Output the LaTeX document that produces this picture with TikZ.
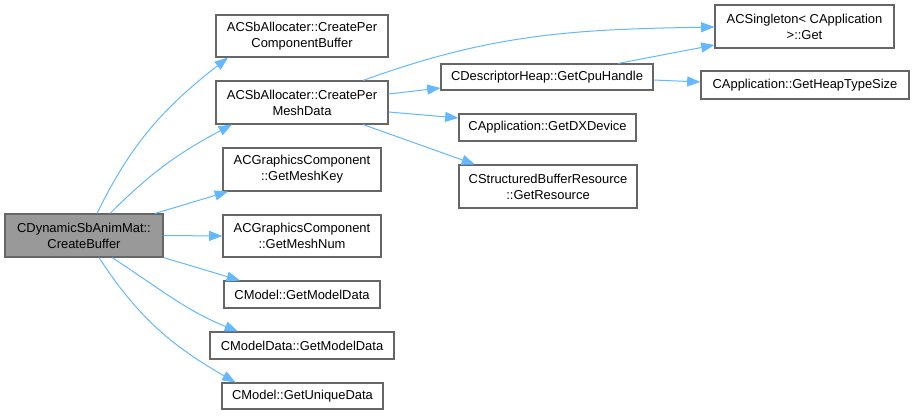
\documentclass[tikz,border=0pt]{standalone}
\usepackage{fontspec}
\setmainfont{Liberation Sans}
\usetikzlibrary{arrows.meta, calc}

\definecolor{edgeblue}{HTML}{63B8FF}
\definecolor{boxline}{HTML}{666666}
\definecolor{rootfill}{HTML}{999999}

\begin{document}
\begin{tikzpicture}[
    x=0.75pt, y=0.75pt,
    box/.style={rectangle, draw=boxline, line width=0.8pt, fill=white, inner sep=0pt, align=center, font=\fontsize{9.7}{12}\selectfont},
    rootbox/.style={box, fill=rootfill},
    arrow/.style={-{Triangle[length=10pt, width=7.5pt]}, draw=edgeblue, line width=0.75pt}
  ]
    \useasboundingbox (0,0) rectangle (914,415);

    \node[rootbox, minimum width=158*0.75pt, minimum height=43*0.75pt] (cb) at (84,179.5) {CDynamicSbAnimMat::\\CreateBuffer};

    \node[box, minimum width=172*0.75pt, minimum height=42*0.75pt] (perComp) at (302,379) {ACSbAllocater::CreatePer\\ComponentBuffer};
    \node[box, minimum width=172*0.75pt, minimum height=43*0.75pt] (perMesh) at (302,312.5) {ACSbAllocater::CreatePer\\MeshData};
    \node[box, minimum width=158*0.75pt, minimum height=43*0.75pt] (meshKey) at (302,245.5) {ACGraphicsComponent\\::GetMeshKey};
    \node[box, minimum width=158*0.75pt, minimum height=42*0.75pt] (meshNum) at (302,179) {ACGraphicsComponent\\::GetMeshNum};
    \node[box, minimum width=156*0.75pt, minimum height=27*0.75pt] (modelData) at (302,120.5) {CModel::GetModelData};
    \node[box, minimum width=184*0.75pt, minimum height=27*0.75pt] (mdData) at (302,69.5) {CModelData::GetModelData};
    \node[box, minimum width=161*0.75pt, minimum height=26*0.75pt] (unique) at (302.5,19) {CModel::GetUniqueData};

    \node[box, minimum width=212*0.75pt, minimum height=26*0.75pt] (cpuHandle) at (547,338) {CDescriptorHeap::GetCpuHandle};
    \node[box, minimum width=177*0.75pt, minimum height=27*0.75pt] (dxDevice) at (547.5,287.5) {CApplication::GetDXDevice};
    \node[box, minimum width=178*0.75pt, minimum height=43*0.75pt] (resource) at (548,228.5) {CStructuredBufferResource\\::GetResource};

    \node[box, minimum width=179*0.75pt, minimum height=43*0.75pt] (singleton) at (804.5,388.5) {ACSingleton< CApplication\\>::Get};
    \node[box, minimum width=208*0.75pt, minimum height=28*0.75pt] (heapSize) at (805,330) {CApplication::GetHeapTypeSize};

    % calls from the root
    \draw[arrow] ($(cb.north)+(13,0)$) to[out=64, in=218] ($(perComp.south)+(-74,0)$);
    \draw[arrow] ($(cb.north)+(26,0)$) to[out=45, in=208] ($(perMesh.south)+(-70,0)$);
    \draw[arrow] ($(cb.north)+(71,0)$) -- ($(meshKey.south)+(-74,0)$);
    \draw[arrow] (cb.east) -- (meshNum.west);
    \draw[arrow] (cb.south east) -- ($(modelData.north)+(-62,0)$);
    \draw[arrow] ($(cb.south)+(28,0)$) to[out=-33, in=158] ($(mdData.north)+(-64,0)$);
    \draw[arrow] ($(cb.south)+(15,0)$) to[out=-57, in=150] ($(unique.north)+(-67,0)$);

    % calls from CreatePerMeshData
    \draw[arrow] ($(perMesh.north)+(61,0)$) to[out=20, in=181] ($(singleton.west)+(0,-0.5)$);
    \draw[arrow] ($(perMesh.east)+(0,8.5)$) -- ($(cpuHandle.west)+(0,-11)$);
    \draw[arrow] ($(perMesh.east)+(0,-9.5)$) -- ($(dxDevice.west)+(0,9.5)$);
    \draw[arrow] ($(perMesh.south)+(61,0)$) -- ($(resource.north)+(-73,0)$);

    % calls from GetCpuHandle
    \draw[arrow] ($(cpuHandle.north)+(71,0)$) -- ($(singleton.west)+(0,-18.5)$);
    \draw[arrow] ($(cpuHandle.east)+(0,-3)$) -- ($(heapSize.west)+(0,3)$);
  \end{tikzpicture}
\end{document}
